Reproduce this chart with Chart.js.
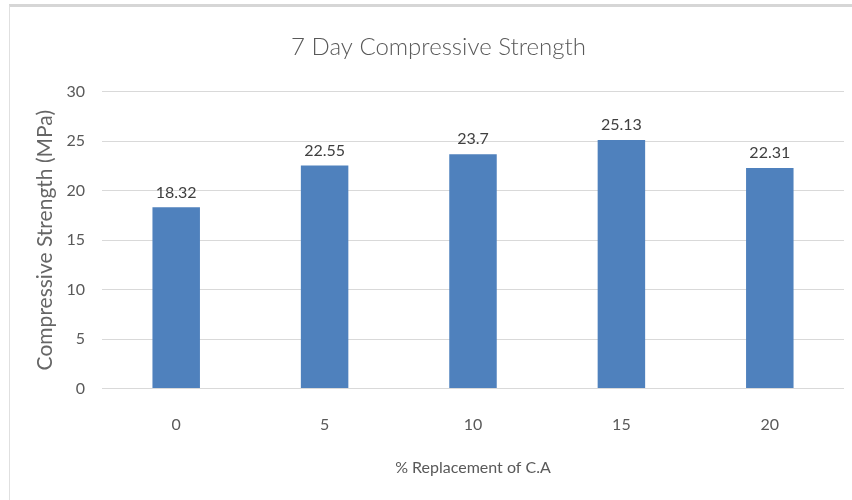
<!DOCTYPE html>
<html>
<head>
<meta charset="utf-8">
<script src="https://cdn.jsdelivr.net/npm/chart.js@4.4.1/dist/chart.umd.min.js"></script>
<style>
  html, body { margin: 0; padding: 0; background: #fff; }
  #frame {
    position: absolute; left: 9px; top: 4px; width: 843px; height: 496px;
    border-top: 3px solid #d6d6d6; border-left: 1px solid #e0e0e0;
    box-sizing: border-box; background: #fff;
  }
  #wrap { position: absolute; left: 0; top: 0; width: 842px; height: 493px; }
</style>
</head>
<body>
<div id="frame"><div id="wrap"><canvas id="c"></canvas></div></div>
<script>
const categories = ['0', '5', '10', '15', '20'];
const strength = [18.32, 22.55, 23.7, 25.13, 22.31];
const yTicks = [0, 5, 10, 15, 20, 25, 30];

const FONT = "Lato, 'Open Sans', sans-serif";
const TEXT = '#595959';

// Value labels above each bar
const valueLabels = {
  id: 'valueLabels',
  afterDatasetsDraw(chart) {
    const ctx = chart.ctx;
    const meta = chart.getDatasetMeta(0);
    const data = chart.data.datasets[0].data;
    ctx.save();
    ctx.font = "16px " + FONT;
    ctx.fillStyle = '#404040';
    ctx.textAlign = 'center';
    ctx.textBaseline = 'bottom';
    meta.data.forEach((bar, i) => {
      ctx.fillText(String(data[i]), bar.x, bar.y - 7);
    });
    ctx.restore();
  }
};

new Chart(document.getElementById('c'), {
  type: 'bar',
  data: {
    labels: categories,
    datasets: [{
      data: strength,
      backgroundColor: '#4f81bd',
      borderWidth: 0,
      barPercentage: 0.64,
      categoryPercentage: 0.5
    }]
  },
  options: {
    responsive: true,
    maintainAspectRatio: false,
    animation: false,
    layout: { padding: { left: 23, right: 8, top: 26, bottom: 19 } },
    plugins: {
      legend: { display: false },
      tooltip: { enabled: false },
      title: {
        display: true,
        text: '7 Day Compressive Strength',
        color: TEXT,
        font: { family: FONT, size: 24, weight: 300 },
        padding: { top: 0, bottom: 30 }
      }
    },
    scales: {
      x: {
        grid: { display: false, drawTicks: false },
        border: { display: false },
        ticks: { color: TEXT, font: { family: FONT, size: 16 }, padding: 27 },
        title: {
          display: true,
          text: '% Replacement of C.A',
          color: TEXT,
          font: { family: FONT, size: 16 },
          padding: { top: -4 }
        }
      },
      y: {
        min: 0,
        max: 30,
        afterBuildTicks(axis) { axis.ticks = yTicks.map(v => ({ value: v })); },
        afterFit(axis) { axis.width = 69; },
        grid: { color: '#d9d9d9', lineWidth: 1, drawTicks: false },
        border: { display: false },
        ticks: { color: TEXT, font: { family: FONT, size: 16 }, padding: 17 },
        title: {
          display: true,
          text: 'Compressive Strength (MPa)',
          color: '#666666',
          font: { family: FONT, size: 21 },
          padding: { top: 0, bottom: 0 }
        }
      }
    }
  },
  plugins: [valueLabels]
});
</script>
</body>
</html>
